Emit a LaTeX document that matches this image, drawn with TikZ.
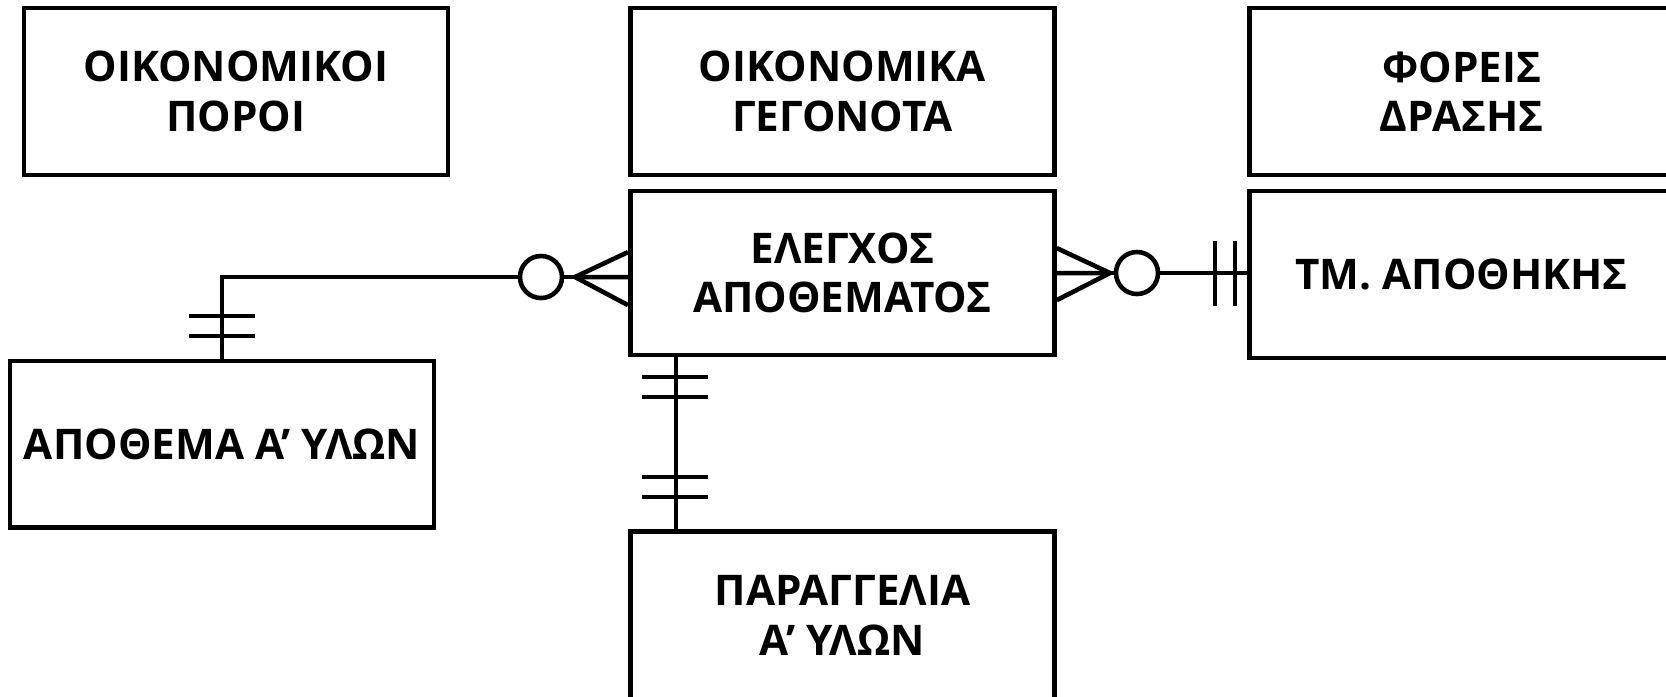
\documentclass[tikz,border=0pt]{standalone}
\usepackage{fontspec}
\setmainfont{Open Sans}
\usetikzlibrary{positioning,calc}

\begin{document}
\begin{tikzpicture}[x=0.01cm,y=-0.01cm,on grid,
    entity/.style={draw,line width=1.3pt,minimum width=4.24cm,minimum height=1.67cm,
        align=center,font=\bfseries\fontsize{12}{14}\selectfont},
    link/.style={line width=1.3pt},
    zero/.style={circle,draw,fill=white,line width=1.3pt,minimum size=0.42cm,inner sep=0pt}]
    \clip[use as bounding box] (0,0) rectangle (1666,696);

    \node[entity] (poroi) at (236,91.5) {ΟΙΚΟΝΟΜΙΚΟΙ\\ΠΟΡΟΙ};
    \node[entity] (gegonota) [right=6.06cm of poroi] {ΟΙΚΟΝΟΜΙΚΑ\\ΓΕΓΟΝΟΤΑ};
    \node[entity] (foreis) [right=6.19cm of gegonota] {ΦΟΡΕΙΣ\\ΔΡΑΣΗΣ};
    \node[entity,minimum height=1.64cm] (elegxos) [below=1.815cm of gegonota] {ΕΛΕΓΧΟΣ\\ΑΠΟΘΕΜΑΤΟΣ};
    \node[entity] (tm) [below=1.83cm of foreis] {ΤΜ. ΑΠΟΘΗΚΗΣ};
    \node[entity,minimum height=1.66cm] (apothema) [below left=1.71cm and 6.2cm of elegxos] {ΑΠΟΘΕΜΑ Α’ ΥΛΩΝ};
    \node[entity] (paraggelia) [below=3.42cm of elegxos] {ΠΑΡΑΓΓΕΛΙΑ\\Α’ ΥΛΩΝ};

    % apothema -- elegxos (one and only one / zero or many)
    \coordinate (bendL) at (222,277);
    \coordinate (footL) at (575,277);
    \node[zero] (zeroL) at (541,277) {};
    \draw[link] (apothema.north -| bendL) -- (bendL) -- (zeroL);
    \draw[link] (zeroL) -- (footL);
    \foreach \dy in {-25,0,28}
        \draw[link] (footL) -- ($(elegxos.west)+(0,\dy+4)$);
    \foreach \y in {316,336}
        \draw[link] (189,\y) -- (255,\y);

    % elegxos -- tm
    \coordinate (footR) at (1110,273);
    \node[zero] (zeroR) at (1137,273) {};
    \foreach \dy in {-25,0,27}
        \draw[link] (footR) -- ($(elegxos.east)+(0,\dy)$);
    \draw[link] (footR) -- (zeroR) -- (tm.west |- zeroR);
    \foreach \x in {1215,1235}
        \draw[link] (\x,241) -- (\x,306);

    % elegxos -- paraggelia
    \coordinate (dropB) at (676,450);
    \draw[link] (elegxos.south -| dropB) -- (paraggelia.north -| dropB);
    \foreach \y in {377,397,477,497}
        \draw[link] (642,\y) -- (708,\y);
\end{tikzpicture}
\end{document}
